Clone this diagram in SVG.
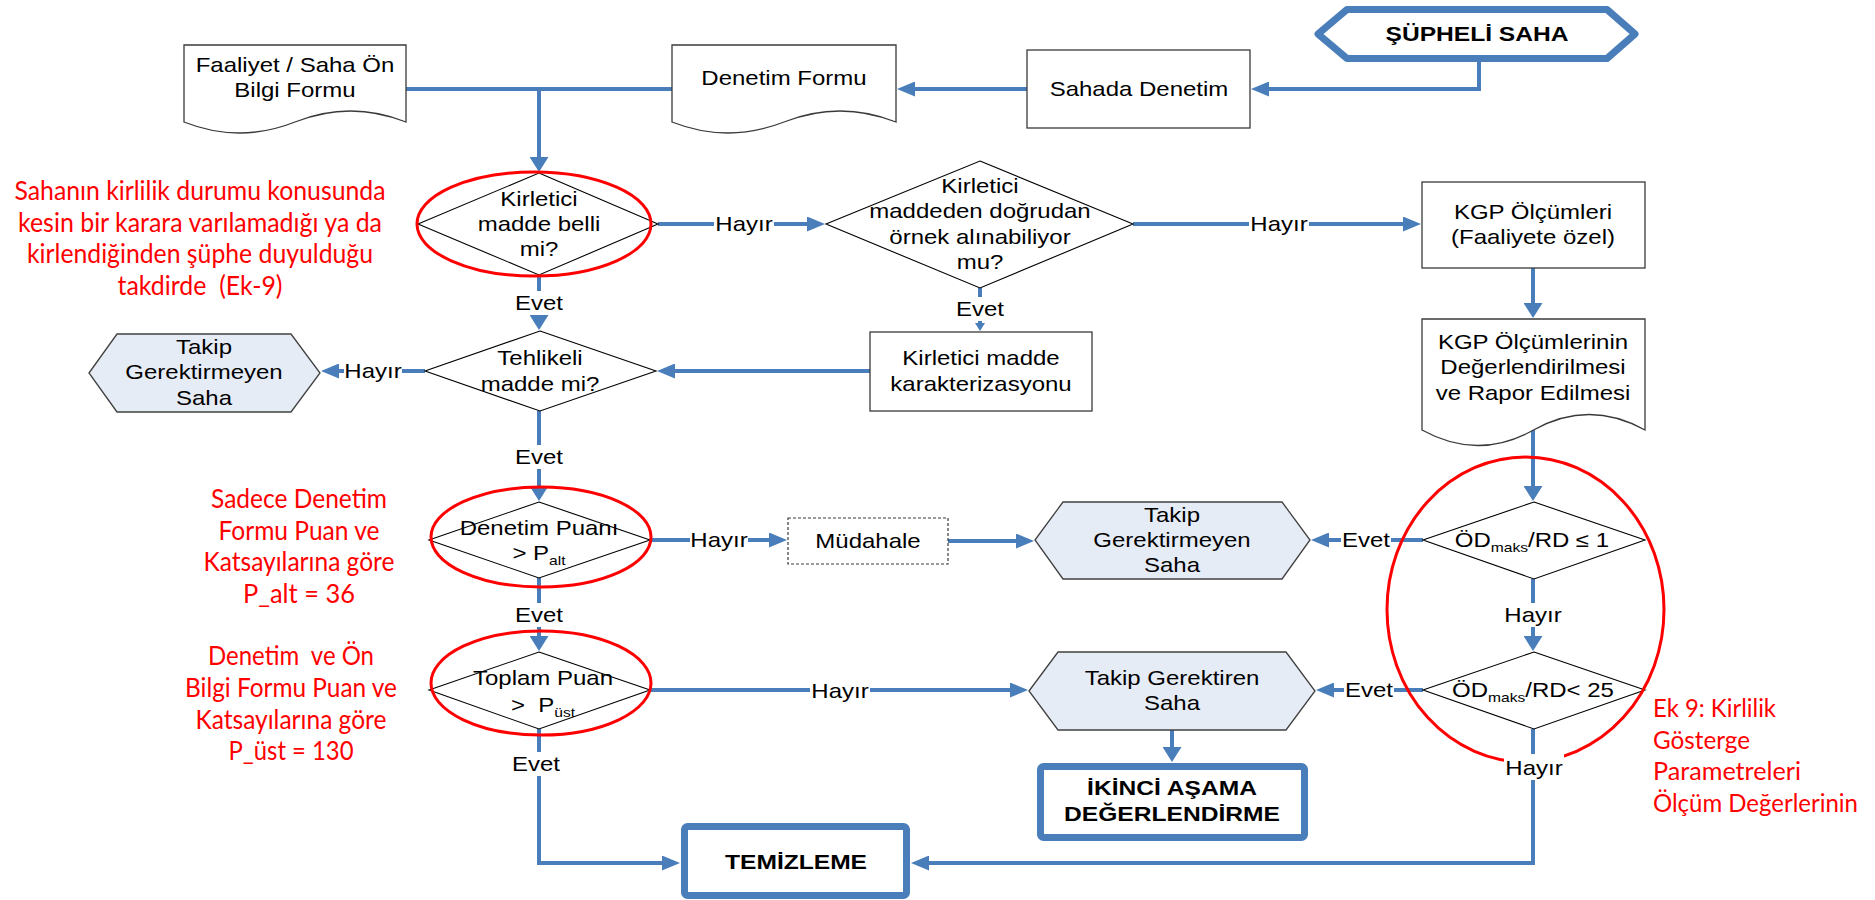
<svg xmlns="http://www.w3.org/2000/svg" width="1875" height="900" viewBox="0 0 1875 900">
<style>
.t{font-family:"Liberation Sans",Arial,sans-serif;font-size:20px;fill:#000;text-anchor:middle}
.b{font-weight:bold;font-size:20.5px}
.r{font-family:Lato,"Open Sans",sans-serif;font-size:26.5px;fill:#FF0000;text-anchor:middle}
.rl{text-anchor:start;font-size:25.5px}
.c{fill:none;stroke:#4A7EBB;stroke-width:4}
.sh{fill:#fff;stroke:#3a3a3a;stroke-width:1.3}
.dsh{fill:#fff;stroke:#3a3a3a;stroke-width:1.2;stroke-dasharray:3 2}
.dm{fill:#fff;stroke:#000;stroke-width:1.1}
.hx{fill:#E6ECF6;stroke:#404040;stroke-width:1.3}
.bx{fill:#fff;stroke:#4A7EBB;stroke-width:7;stroke-linejoin:round}
.el{fill:none;stroke:#FF0000;stroke-width:3}
.lb{fill:#fff}
.sub{font-size:13px}
</style>
<defs>
<marker id="ah" markerUnits="userSpaceOnUse" markerWidth="19" markerHeight="15" refX="1" refY="7.5" orient="auto"><path d="M0,0 L18,7.5 L0,15 Z" fill="#4A7EBB"/></marker>
<marker id="av" markerUnits="userSpaceOnUse" markerWidth="16" markerHeight="19" refX="1" refY="9.5" orient="auto"><path d="M0,0 L15,9.5 L0,19 Z" fill="#4A7EBB"/></marker>
<marker id="as" markerUnits="userSpaceOnUse" markerWidth="9" markerHeight="10" refX="1" refY="5" orient="auto"><path d="M0,0 L8,5 L0,10 Z" fill="#4A7EBB"/></marker>
</defs>
<rect width="1875" height="900" fill="#fff"/>

<g id="connectors">
<path class="c" d="M1479,62 V89 H1268" marker-end="url(#ah)"/>
<path class="c" d="M1027,89 H914" marker-end="url(#ah)"/>
<path class="c" d="M406,89 H672"/>
<path class="c" d="M539,89 V158" marker-end="url(#av)"/>
<path class="c" d="M658,224 H808" marker-end="url(#ah)"/>
<path class="c" d="M1133,224 H1404" marker-end="url(#ah)"/>
<path class="c" d="M1533,268 V304" marker-end="url(#av)"/>
<path class="c" d="M1533,430 V487" marker-end="url(#av)"/>
<path class="c" d="M1423,540 H1328" marker-end="url(#ah)"/>
<path class="c" d="M1533,579 V637" marker-end="url(#av)"/>
<path class="c" d="M1423,690 H1333" marker-end="url(#ah)"/>
<path class="c" d="M1533,729 V863 H928" marker-end="url(#ah)"/>
<path class="c" d="M980,288 V324" marker-end="url(#as)"/>
<path class="c" d="M870,371 H674" marker-end="url(#ah)"/>
<path class="c" d="M539,275 V316" marker-end="url(#av)"/>
<path class="c" d="M425,371 H338" marker-end="url(#ah)"/>
<path class="c" d="M539,411 V487" marker-end="url(#av)"/>
<path class="c" d="M650,540 H770" marker-end="url(#ah)"/>
<path class="c" d="M948,541 H1017" marker-end="url(#ah)"/>
<path class="c" d="M539,578 V637" marker-end="url(#av)"/>
<path class="c" d="M650,690 H1011" marker-end="url(#ah)"/>
<path class="c" d="M1172,730 V748" marker-end="url(#av)"/>
<path class="c" d="M539,729 V863 H663" marker-end="url(#ah)"/>
</g>

<g id="n-supheli">
<polygon class="bx" points="1318,34 1347,9.5 1607,9.5 1635,34 1607,58.5 1347,58.5"/>
<text class="t b" transform="translate(1477,41) scale(1.2,1)">ŞÜPHELİ SAHA</text>
</g>
<g id="n-sahada">
<rect class="sh" x="1027" y="50" width="223" height="78"/>
<text class="t" transform="translate(1139,96) scale(1.2,1)">Sahada Denetim</text>
</g>
<g id="n-denetimformu">
<path class="sh" d="M672,45 H896 V122 Q840,100 784,122 Q728,144 672,122 Z"/>
<text class="t" transform="translate(784,85) scale(1.2,1)">Denetim Formu</text>
</g>
<g id="n-faaliyet">
<path class="sh" d="M184,45 H406 V122 Q350.5,100 295,122 Q239.5,144 184,122 Z"/>
<text class="t" transform="translate(295,72) scale(1.2,1)"><tspan x="0">Faaliyet / Saha Ön</tspan><tspan x="0" dy="25">Bilgi Formu</tspan></text>
</g>
<g id="n-d1">
<polygon class="dm" points="539,173 658,224 539,275 418,224"/>
<text class="t" transform="translate(539,206) scale(1.2,1)"><tspan x="0">Kirletici</tspan><tspan x="0" dy="25">madde belli</tspan><tspan x="0" dy="25">mi?</tspan></text>
</g>
<g id="n-d2">
<polygon class="dm" points="980,161 1133,224 980,288 826,224"/>
<text class="t" transform="translate(980,193) scale(1.2,1)"><tspan x="0">Kirletici</tspan><tspan x="0" dy="25.5">maddeden doğrudan</tspan><tspan x="0" dy="25.5">örnek alınabiliyor</tspan><tspan x="0" dy="25.5">mu?</tspan></text>
</g>
<g id="n-kgp1">
<rect class="sh" x="1422" y="182" width="223" height="86"/>
<text class="t" transform="translate(1533,219) scale(1.2,1)"><tspan x="0">KGP Ölçümleri</tspan><tspan x="0" dy="25">(Faaliyete özel)</tspan></text>
</g>
<g id="n-kgp2">
<path class="sh" d="M1422,319 H1645 V430 Q1589,399 1533.5,430 Q1478,461 1422,430 Z"/>
<text class="t" transform="translate(1533,349) scale(1.2,1)"><tspan x="0">KGP Ölçümlerinin</tspan><tspan x="0" dy="25.5">Değerlendirilmesi</tspan><tspan x="0" dy="25.5">ve Rapor Edilmesi</tspan></text>
</g>
<g id="n-karakterizasyon">
<rect class="sh" x="870" y="332" width="222" height="79"/>
<text class="t" transform="translate(981,365) scale(1.2,1)"><tspan x="0">Kirletici madde</tspan><tspan x="0" dy="26">karakterizasyonu</tspan></text>
</g>
<g id="n-d3">
<polygon class="dm" points="540,331 656,371 540,411 425,371"/>
<text class="t" transform="translate(540,365) scale(1.2,1)"><tspan x="0">Tehlikeli</tspan><tspan x="0" dy="26">madde mi?</tspan></text>
</g>
<g id="n-takip1">
<polygon class="hx" points="89,373 117,334 291,334 320,373 291,412 117,412"/>
<text class="t" transform="translate(204,354) scale(1.2,1)"><tspan x="0">Takip</tspan><tspan x="0" dy="25.5">Gerektirmeyen</tspan><tspan x="0" dy="25.5">Saha</tspan></text>
</g>
<g id="n-d4">
<polygon class="dm" points="539,502 650,540 539,578 429,540"/>
<text class="t" transform="translate(539,535) scale(1.2,1)"><tspan x="0">Denetim Puanı</tspan><tspan x="0" dy="25">&gt; P</tspan><tspan class="sub" dy="5">alt</tspan></text>
</g>
<g id="n-mudahale">
<rect class="dsh" x="788" y="518" width="160" height="46"/>
<text class="t" transform="translate(868,548) scale(1.2,1)">Müdahale</text>
</g>
<g id="n-takip2">
<polygon class="hx" points="1035,540 1063,502 1282,502 1310,540 1282,579 1063,579"/>
<text class="t" transform="translate(1172,522) scale(1.2,1)"><tspan x="0">Takip</tspan><tspan x="0" dy="25">Gerektirmeyen</tspan><tspan x="0" dy="25">Saha</tspan></text>
</g>
<g id="n-d5">
<polygon class="dm" points="1534,502 1645,540 1534,579 1423,540"/>
<text class="t" transform="translate(1532,547) scale(1.2,1)">ÖD<tspan class="sub" dy="5">maks</tspan><tspan dy="-5">/RD ≤ 1</tspan></text>
</g>
<g id="n-d7">
<polygon class="dm" points="539,652 650,690 539,729 429,690"/>
<text class="t" transform="translate(543,685) scale(1.2,1)" xml:space="preserve"><tspan x="0">Toplam Puan</tspan><tspan x="0" dy="27">&gt;  P</tspan><tspan class="sub" dy="5">üst</tspan></text>
</g>
<g id="n-takip3">
<polygon class="hx" points="1029,691 1058,652 1286,652 1315,691 1286,730 1058,730"/>
<text class="t" transform="translate(1172,685) scale(1.2,1)"><tspan x="0">Takip Gerektiren</tspan><tspan x="0" dy="25">Saha</tspan></text>
</g>
<g id="n-d6">
<polygon class="dm" points="1534,652 1645,690 1534,729 1423,690"/>
<text class="t" transform="translate(1533,697) scale(1.2,1)">ÖD<tspan class="sub" dy="5">maks</tspan><tspan dy="-5">/RD&lt; 25</tspan></text>
</g>
<g id="n-ikinci">
<rect class="bx" x="1040.5" y="766.5" width="264" height="71" rx="3"/>
<text class="t b" transform="translate(1172,795) scale(1.2,1)"><tspan x="0">İKİNCİ AŞAMA</tspan><tspan x="0" dy="26">DEĞERLENDİRME</tspan></text>
</g>
<g id="n-temizleme">
<rect class="bx" x="684.5" y="826.5" width="222" height="69" rx="3"/>
<text class="t b" transform="translate(796,869) scale(1.2,1)">TEMİZLEME</text>
</g>

<g id="annotations">
<ellipse class="el" cx="534" cy="224" rx="117" ry="52"/>
<ellipse class="el" cx="541" cy="537" rx="110" ry="50"/>
<ellipse class="el" cx="541" cy="683" rx="110" ry="52"/>
<ellipse class="el" cx="1525.5" cy="609.5" rx="138.5" ry="152.5"/>
<text class="r" xml:space="preserve"><tspan x="200" y="200" textLength="371" lengthAdjust="spacingAndGlyphs">Sahanın kirlilik durumu konusunda</tspan><tspan x="200" y="232" textLength="364" lengthAdjust="spacingAndGlyphs">kesin bir karara varılamadığı ya da</tspan><tspan x="200" y="263" textLength="346" lengthAdjust="spacingAndGlyphs">kirlendiğinden şüphe duyulduğu</tspan><tspan x="200" y="295" textLength="165" lengthAdjust="spacingAndGlyphs">takdirde  (Ek-9)</tspan></text>
<text class="r"><tspan x="299" y="508" textLength="176" lengthAdjust="spacingAndGlyphs">Sadece Denetim</tspan><tspan x="299" y="540" textLength="161" lengthAdjust="spacingAndGlyphs">Formu Puan ve</tspan><tspan x="299" y="571" textLength="191" lengthAdjust="spacingAndGlyphs">Katsayılarına göre</tspan><tspan x="299" y="603" textLength="112" lengthAdjust="spacingAndGlyphs">P_alt = 36</tspan></text>
<text class="r" xml:space="preserve"><tspan x="291" y="665" textLength="166" lengthAdjust="spacingAndGlyphs">Denetim  ve Ön</tspan><tspan x="291" y="697" textLength="212" lengthAdjust="spacingAndGlyphs">Bilgi Formu Puan ve</tspan><tspan x="291" y="729" textLength="191" lengthAdjust="spacingAndGlyphs">Katsayılarına göre</tspan><tspan x="291" y="760" textLength="125" lengthAdjust="spacingAndGlyphs">P_üst = 130</tspan></text>
<text class="r rl"><tspan x="1653" y="717" textLength="123" lengthAdjust="spacingAndGlyphs">Ek 9: Kirlilik</tspan><tspan x="1653" y="749" textLength="97" lengthAdjust="spacingAndGlyphs">Gösterge</tspan><tspan x="1653" y="780" textLength="148" lengthAdjust="spacingAndGlyphs">Parametreleri</tspan><tspan x="1653" y="812" textLength="205" lengthAdjust="spacingAndGlyphs">Ölçüm Değerlerinin</tspan></text>
</g>

<g id="labels">
<rect class="lb" x="714" y="212" width="60" height="24"/><text class="t" transform="translate(744,231) scale(1.2,1)">Hayır</text>
<rect class="lb" x="1249" y="212" width="60" height="24"/><text class="t" transform="translate(1279,231) scale(1.2,1)">Hayır</text>
<rect class="lb" x="955" y="297" width="50" height="24"/><text class="t" transform="translate(980,316) scale(1.2,1)">Evet</text>
<rect class="lb" x="514" y="291" width="50" height="24"/><text class="t" transform="translate(539,310) scale(1.2,1)">Evet</text>
<rect class="lb" x="344" y="359" width="58" height="24"/><text class="t" transform="translate(373,378) scale(1.2,1)">Hayır</text>
<rect class="lb" x="514" y="445" width="50" height="24"/><text class="t" transform="translate(539,464) scale(1.2,1)">Evet</text>
<rect class="lb" x="690" y="528" width="58" height="24"/><text class="t" transform="translate(719,547) scale(1.2,1)">Hayır</text>
<rect class="lb" x="514" y="603" width="50" height="24"/><text class="t" transform="translate(539,622) scale(1.2,1)">Evet</text>
<rect class="lb" x="810" y="679" width="60" height="24"/><text class="t" transform="translate(840,698) scale(1.2,1)">Hayır</text>
<rect class="lb" x="511" y="752" width="50" height="24"/><text class="t" transform="translate(536,771) scale(1.2,1)">Evet</text>
<rect class="lb" x="1341" y="528" width="50" height="24"/><text class="t" transform="translate(1366,547) scale(1.2,1)">Evet</text>
<rect class="lb" x="1503" y="603" width="60" height="24"/><text class="t" transform="translate(1533,622) scale(1.2,1)">Hayır</text>
<rect class="lb" x="1344" y="678" width="50" height="24"/><text class="t" transform="translate(1369,697) scale(1.2,1)">Evet</text>
<rect class="lb" x="1504" y="754" width="60" height="26"/><text class="t" transform="translate(1534,775) scale(1.2,1)">Hayır</text>
</g>
</svg>
